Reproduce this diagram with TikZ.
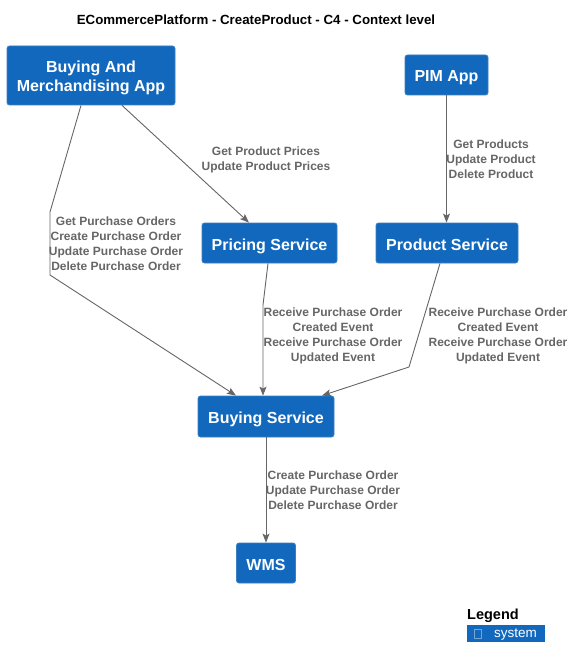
\documentclass[tikz,border=0pt]{standalone}
\usepackage{fontspec}
\setmainfont{Liberation Sans}
\usetikzlibrary{arrows.meta}
\definecolor{sysblue}{HTML}{1168BD}
\definecolor{sysborder}{HTML}{3C7FC0}
\definecolor{relgrey}{HTML}{666666}
\begin{document}
\begin{tikzpicture}[x=1pt,y=-1pt,
  sysbox/.style={draw=sysborder,fill=sysblue,rounded corners=2.5pt,line width=0.8pt,
    text=white,font=\fontsize{16}{19}\selectfont\bfseries,align=center,inner sep=0pt,
    text height=14pt,text depth=0pt},
  rel/.style={draw=relgrey,line width=0.9pt,-{Stealth[length=9pt,width=7pt,inset=2pt]}},
  rellabel/.style={text=relgrey,font=\fontsize{12}{15}\selectfont\bfseries,align=center,inner sep=0pt}
]
\useasboundingbox (0,0) rectangle (575,668);
\fill[white] (0,0) rectangle (575,668);
\node[font=\fontsize{13.3}{16}\selectfont\bfseries] (title) at (256,20) {ECommercePlatform - CreateProduct - C4 - Context level};

\node[sysbox,minimum width=168pt,minimum height=59pt,text height=33pt] (bam) at (91,75.5) {Buying And\\Merchandising App};
\node[sysbox,minimum width=83pt,minimum height=40pt] (pim) at (446.5,75) {PIM App};
\node[sysbox,minimum width=135pt,minimum height=40pt] (pricing) at (269.5,243) {Pricing Service};
\node[sysbox,minimum width=142pt,minimum height=40pt] (prod) at (447,243) {Product Service};
\node[sysbox,minimum width=136pt,minimum height=41pt] (buy) at (266,416.5) {Buying Service};
\node[sysbox,minimum width=59pt,minimum height=40pt] (wms) at (266,563) {WMS};

\coordinate (b1) at (50,212);
\coordinate (b2) at (50,275);
\draw[rel] ([xshift=-10pt]bam.south) -- (b1) -- (b2) -- ([xshift=-30pt]buy.north);
\node[rellabel] (l1) at (116,244) {Get Purchase Orders\\Create Purchase Order\\Update Purchase Order\\Delete Purchase Order};

\draw[rel] ([xshift=31pt]bam.south) -- ([xshift=-20.5pt]pricing.north);
\node[rellabel] (l2) at (266,159.5) {Get Product Prices\\Update Product Prices};

\draw[rel] (pim.south) -- (pim.south |- prod.north);
\node[rellabel] (l3) at (491,159) {Get Products\\Update Product\\Delete Product};

\coordinate (b3) at (263,305);
\draw[rel] ([xshift=-1.5pt]pricing.south) -- (b3) -- ([xshift=-3pt]buy.north);
\node[rellabel] (l4) at (333,335.5) {Receive Purchase Order\\Created Event\\Receive Purchase Order\\Updated Event};

\coordinate (b4) at (409,367);
\draw[rel] ([xshift=-7pt]prod.south) -- (b4) -- ([xshift=56pt]buy.north);
\node[rellabel] (l5) at (498,335.5) {Receive Purchase Order\\Created Event\\Receive Purchase Order\\Updated Event};

\draw[rel] (buy.south) -- (wms.north);
\node[rellabel] (l6) at (333,490) {Create Purchase Order\\Update Purchase Order\\Delete Purchase Order};

\node[anchor=south west,inner sep=0pt,font=\fontsize{14.5}{16}\selectfont\bfseries] (legend) at (467,623) {Legend};
\node[fill=sysblue,anchor=north west,minimum width=78pt,minimum height=17pt,inner sep=0pt] (legbox) at (467,625) {};
\node[anchor=west,inner sep=0pt,text=white,font=\fontsize{13.5}{15}\selectfont] (legtext) at (494,634.5) {system};
\draw[draw=sysborder!70!white,line width=0.6pt] (474,629) rectangle (481,638);
\end{tikzpicture}
\end{document}
